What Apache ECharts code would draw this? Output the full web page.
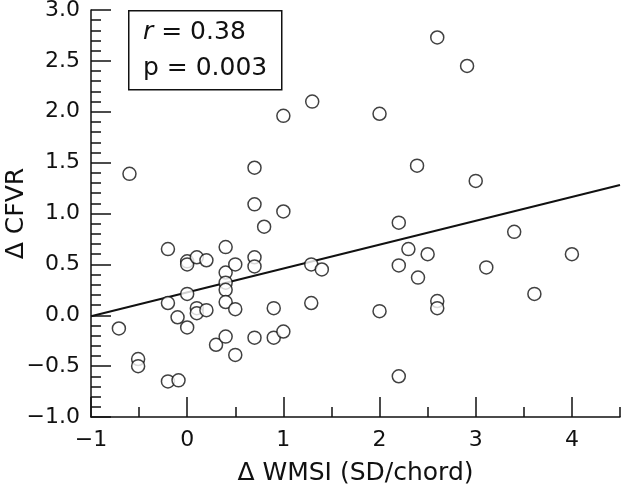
<!DOCTYPE html>
<html>
<head>
<meta charset="utf-8">
<script src="https://cdn.jsdelivr.net/npm/echarts@6/dist/echarts.min.js"></script>
<style>html,body{margin:0;padding:0;background:#fff}#c{width:640px;height:493px}</style>
</head>
<body>
<div id="c"></div>
<script>
// Δ WMSI (x) values
var xValues = [-0.60,0.70,0.70,0.80,1.00,1.00,1.30,2.60,2.91,2.00,2.39,3.00,2.20,3.40,
  -0.20,0.00,0.00,0.10,0.20,0.40,0.40,0.50,0.40,0.40,0.40,0.50,0.70,0.70,0.00,-0.20,
  0.10,0.10,0.20,-0.10,0.00,-0.71,-0.51,-0.51,-0.20,-0.09,0.30,0.40,0.50,0.70,0.90,
  0.90,1.00,1.29,1.40,1.29,2.30,2.50,2.20,2.40,3.11,4.00,3.61,2.60,2.60,2.00,2.20];
// Δ CFVR (y) values
var yValues = [1.39,1.45,1.09,0.87,1.96,1.02,2.10,2.73,2.45,1.98,1.47,1.32,0.91,0.82,
  0.65,0.53,0.50,0.57,0.54,0.67,0.42,0.50,0.32,0.25,0.13,0.06,0.57,0.48,0.21,0.12,
  0.07,0.02,0.05,-0.02,-0.12,-0.13,-0.43,-0.50,-0.65,-0.64,-0.29,-0.21,-0.39,-0.22,0.07,
  -0.22,-0.16,0.50,0.45,0.12,0.65,0.60,0.49,0.37,0.47,0.60,0.21,0.14,0.07,0.04,-0.60];
// regression line end points
var fitX = [-1.0, 4.5];
var fitY = [-0.01, 1.28];
var xMajorTicks = [-1,0,1,2,3,4];
var xMinorTicks = [-0.5,0.5,1.5,2.5,3.5,4.5];
var statLines = ['r = 0.38', 'p = 0.003'];

var FONT = 'DejaVu Sans';
var points = xValues.map(function(x,i){return [x,yValues[i]];});
var fitLine = fitX.map(function(x,i){return [x,fitY[i]];});
function minus(s){return String(s).replace('-', '\u2212');}

var chart = echarts.init(document.getElementById('c'), null, {renderer:'canvas'});
var axisLineStyle = {color:'#111', width:1.5};
chart.setOption({
  animation:false,
  backgroundColor:'#fff',
  grid:{left:91,right:20,top:10,bottom:76,containLabel:false,outerBoundsMode:'none'},
  xAxis:[{
    type:'value', min:-1, max:4.5, interval:0.5,
    name:'\u0394 WMSI (SD/chord)', nameLocation:'middle', nameGap:44, nameMoveOverlap:false,
    nameTextStyle:{fontFamily:FONT,fontSize:25,color:'#111'},
    axisLine:{show:true,onZero:false,lineStyle:axisLineStyle},
    axisTick:{show:true,inside:true,length:20,customValues:xMajorTicks,lineStyle:axisLineStyle},
    axisLabel:{show:true,margin:12,fontFamily:FONT,fontSize:22,color:'#111',customValues:xMajorTicks,
      formatter:function(v){return minus(v);}},
    splitLine:{show:false}
  },{
    type:'value', min:-1, max:4.5, interval:0.5, position:'bottom',
    axisLine:{show:false,onZero:false},
    axisTick:{show:true,inside:true,length:10,customValues:xMinorTicks,lineStyle:axisLineStyle},
    axisLabel:{show:false},
    splitLine:{show:false}
  }],
  yAxis:{
    type:'value', min:-1, max:3, interval:0.5,
    name:'\u0394 CFVR', nameLocation:'middle', nameGap:62, nameMoveOverlap:false,
    nameTextStyle:{fontFamily:FONT,fontSize:25,color:'#111'},
    axisLine:{show:true,onZero:false,lineStyle:axisLineStyle},
    axisTick:{show:true,inside:true,length:20,lineStyle:axisLineStyle},
    minorTick:{show:true,splitNumber:5,length:10,lineStyle:{color:'#111',width:1.5}},
    axisLabel:{margin:11,fontFamily:FONT,fontSize:22,color:'#111',
      formatter:function(v){return minus(v.toFixed(1));}},
    splitLine:{show:false}
  },
  series:[{
    type:'line', data:fitLine, symbol:'none', z:1,
    lineStyle:{color:'#111',width:2}
  },{
    type:'scatter', data:points, symbol:'circle', symbolSize:13, z:3,
    itemStyle:{color:'#fff',borderColor:'#111',borderWidth:1.5}
  }],
  graphic:[{
    type:'rect', left:128, top:10, z:10,
    shape:{width:153,height:79},
    style:{fill:'#fff',stroke:'#111',lineWidth:1.5}
  },{
    type:'text', left:143, top:20, z:11,
    style:{text:'{i|r}{n| = 0.38}', rich:{
      i:{fontFamily:FONT,fontSize:25,fontStyle:'italic',fill:'#111'},
      n:{fontFamily:FONT,fontSize:25,fill:'#111'}}}
  },{
    type:'text', left:143, top:56, z:11,
    style:{text:statLines[1],fontFamily:FONT,fontSize:25,fill:'#111'}
  }]
});
</script>
</body>
</html>
